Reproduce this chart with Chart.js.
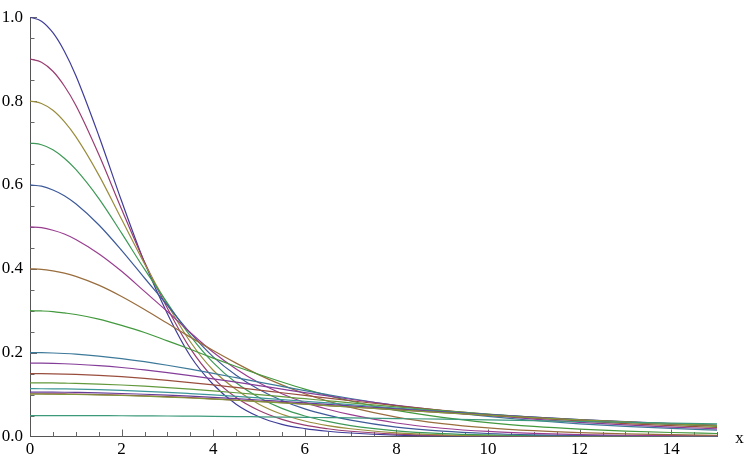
<!DOCTYPE html>
<html>
<head>
<meta charset="utf-8">
<script src="https://cdn.jsdelivr.net/npm/chart.js@4.4.1/dist/chart.umd.min.js"></script>
<style>
html,body{margin:0;padding:0;background:#ffffff;}
#wrap{width:747px;height:460px;position:relative;}
canvas{display:block;}
</style>
</head>
<body>
<div id="wrap"><canvas id="c" width="747" height="460"></canvas></div>
<script>
// ---- data ----
const xs = [0,0.25,0.5,0.75,1,1.5,2,2.5,3,3.5,4,4.5,5,5.5,6,6.5,7,8,9,10,11,12,13,14,15];

const curve01 = [1,0.9906,0.963,0.9189,0.861,0.718,0.5615,0.415,0.2926,0.192,0.124,0.077,0.047,0.029,0.019,0.0125,0.0083,0.0033,0.0013,0.0005,0.0002,0.0001,0.00005,0.00003,0.00001];
const curve02 = [0.9,0.8926,0.871,0.8359,0.790,0.673,0.542,0.416,0.306,0.210,0.140,0.093,0.062,0.041,0.027,0.0185,0.0125,0.0055,0.0024,0.0011,0.0005,0.00025,0.00013,0.00007,0.00004];
const curve03 = [0.8,0.7943,0.778,0.7508,0.715,0.624,0.518,0.412,0.315,0.226,0.158,0.112,0.077,0.053,0.037,0.026,0.0185,0.0088,0.0041,0.002,0.001,0.0005,0.00026,0.00014,0.00008];
const curve04 = [0.7,0.6958,0.684,0.6637,0.637,0.568,0.485,0.399,0.318,0.240,0.176,0.128,0.093,0.067,0.049,0.036,0.026,0.0136,0.0070,0.0037,0.002,0.0011,0.0006,0.00034,0.0002];
const curve05 = [0.6,0.5971,0.588,0.5744,0.555,0.505,0.444,0.378,0.313,0.247,0.190,0.146,0.112,0.086,0.066,0.051,0.039,0.0225,0.0128,0.0072,0.0041,0.0024,0.0014,0.00085,0.00052];
const curve06 = [0.5,0.4981,0.492,0.4831,0.470,0.436,0.394,0.346,0.298,0.248,0.201,0.161,0.128,0.102,0.081,0.065,0.052,0.0322,0.0197,0.0120,0.0075,0.0047,0.0030,0.0019,0.00126];
const curve07 = [0.4,0.3988,0.395,0.3898,0.382,0.361,0.334,0.303,0.270,0.237,0.205,0.175,0.147,0.123,0.102,0.0844,0.0694,0.0464,0.0309,0.0206,0.0138,0.0093,0.0063,0.0044,0.0030];
const curve08 = [0.3,0.2994,0.298,0.2947,0.291,0.280,0.265,0.248,0.228,0.208,0.187,0.167,0.148,0.130,0.113,0.098,0.0846,0.0624,0.0456,0.0332,0.0241,0.0176,0.0129,0.0095,0.0071];
const curve09 = [0.2,0.1998,0.1991,0.1979,0.1963,0.1918,0.1858,0.1784,0.1699,0.1605,0.1505,0.1402,0.1298,0.1195,0.1094,0.0998,0.0906,0.0739,0.0596,0.0478,0.0381,0.0303,0.0241,0.0192,0.0153];
const curve10 = [0.175,0.1748,0.1743,0.1735,0.1723,0.1690,0.1645,0.1589,0.1525,0.1453,0.1376,0.1295,0.1213,0.1130,0.1047,0.0967,0.0889,0.0744,0.0617,0.0507,0.0415,0.0338,0.0275,0.0224,0.0183];
const curve11 = [0.15,0.1499,0.1495,0.1489,0.1481,0.1457,0.1426,0.1386,0.1339,0.1287,0.1231,0.1170,0.1108,0.1044,0.0980,0.0916,0.0853,0.0734,0.0625,0.0528,0.0443,0.0371,0.0309,0.0258,0.0215];
const curve12 = [0.128,0.1279,0.1277,0.1272,0.1267,0.1250,0.1228,0.1200,0.1167,0.1129,0.1088,0.1044,0.0998,0.0950,0.0901,0.0852,0.0803,0.0707,0.0616,0.0533,0.0459,0.0393,0.0335,0.0286,0.0243];
const curve13 = [0.114,0.1139,0.1137,0.1134,0.1130,0.1117,0.1100,0.1078,0.1053,0.1023,0.0991,0.0956,0.0919,0.0881,0.0841,0.0800,0.0760,0.0679,0.0602,0.0529,0.0463,0.0403,0.0349,0.0302,0.0260];
const curve14 = [0.106,0.1059,0.1058,0.1055,0.1051,0.1041,0.1026,0.1008,0.0986,0.0961,0.0933,0.0903,0.0871,0.0837,0.0803,0.0767,0.0731,0.0660,0.0590,0.0523,0.0462,0.0406,0.0355,0.0309,0.0269];
const curve15 = [0.102,0.1019,0.1018,0.1015,0.1012,0.1001,0.0987,0.0970,0.0949,0.0925,0.0898,0.0869,0.0838,0.0806,0.0772,0.0738,0.0704,0.0635,0.0568,0.0504,0.0444,0.0390,0.0341,0.0298,0.0259];
const curve16 = [0.101,0.1009,0.1008,0.1005,0.1002,0.0992,0.0978,0.0961,0.0941,0.0918,0.0892,0.0864,0.0834,0.0803,0.0770,0.0737,0.0704,0.0637,0.0571,0.0508,0.0449,0.0395,0.0347,0.0303,0.0265];
const curve17 = [0.05,0.05,0.05,0.0499,0.0499,0.0497,0.0495,0.0492,0.0489,0.0485,0.0481,0.0476,0.0470,0.0464,0.0458,0.0451,0.0444,0.0428,0.0412,0.0395,0.0377,0.0358,0.0340,0.0321,0.0303];

const xTickValues = [0,2,4,6,8,10,12,14];
const xTickLabels = ['0','2','4','6','8','10','12','14'];
const yTickValues = [0,0.2,0.4,0.6,0.8,1.0];
const yTickLabels = ['0.0','0.2','0.4','0.6','0.8','1.0'];
const xAxisLabel = 'x';

// ---- styles ----
const allCurves = [curve01,curve02,curve03,curve04,curve05,curve06,curve07,curve08,curve09,curve10,curve11,curve12,curve13,curve14,curve15,curve16,curve17];
const lineColors = ['#3f3d99','#993d71','#998c3d','#3d9956','#3d5a99','#993d90','#996d3d','#43993d','#3d7999','#843d99','#994e3d','#62993d','#3d9799','#653d99','#993d4b','#81993d','#3d997c'];
const FONT = '"Liberation Serif", "Times New Roman", serif';
const xMinorStep = 0.5, yMinorStep = 0.05;
const majorLen = 7, minorLen = 4.5;
const axisColor = '#555555', tickColor = '#666666';

const datasets = allCurves.map((ys, i) => ({
  data: xs.map((x, j) => ({x: x, y: ys[j]})),
  borderColor: lineColors[i],
  borderWidth: 1.2,
  pointRadius: 0,
  fill: false,
  cubicInterpolationMode: 'monotone',
  order: allCurves.length - i
}));

const axisDecor = {
  id: 'axisDecor',
  beforeDatasetsDraw(chart) {
    const {ctx, scales: {x, y}} = chart;
    ctx.save();
    ctx.strokeStyle = tickColor;
    ctx.lineWidth = 1;
    ctx.beginPath();
    const nx = Math.round((x.max - x.min) / xMinorStep);
    for (let i = 1; i <= nx; i++) {
      const v = x.min + i * xMinorStep;
      const px = Math.round(x.getPixelForValue(v)) + 0.5;
      const isMajor = xTickValues.some(t => Math.abs(t - v) < 1e-9);
      const len = isMajor ? majorLen : minorLen;
      ctx.moveTo(px, y.bottom);
      ctx.lineTo(px, y.bottom - len);
    }
    const ny = Math.round((y.max - y.min) / yMinorStep);
    for (let i = 1; i <= ny; i++) {
      const v = y.min + i * yMinorStep;
      const py = Math.round(y.getPixelForValue(v)) + 0.5;
      const isMajor = yTickValues.some(t => Math.abs(t - v) < 1e-9);
      const len = isMajor ? majorLen : minorLen;
      ctx.moveTo(x.left, py);
      ctx.lineTo(x.left + len, py);
    }
    ctx.stroke();
    ctx.restore();
  },
  afterDraw(chart) {
    const {ctx, scales: {x, y}} = chart;
    ctx.save();
    ctx.fillStyle = '#000000';
    ctx.font = '17px ' + FONT;
    ctx.textAlign = 'center';
    ctx.textBaseline = 'alphabetic';
    ctx.fillText(xAxisLabel, x.right + 22.5, y.bottom + 6);
    ctx.restore();
  }
};

new Chart(document.getElementById('c'), {
  type: 'line',
  data: { datasets: datasets },
  options: {
    responsive: false,
    animation: false,
    devicePixelRatio: 1,
    layout: { padding: { left: 0, right: 30, top: 10.5, bottom: 0 } },
    plugins: { legend: { display: false }, tooltip: { enabled: false } },
    scales: {
      x: {
        type: 'linear', min: 0, max: 15,
        grid: { display: true, drawOnChartArea: false, drawTicks: false },
        border: { display: true, color: axisColor, width: 1 },
        afterBuildTicks: s => { s.ticks = xTickValues.map(v => ({value: v})); },
        afterFit: s => { s.height = 23.5; },
        ticks: {
          autoSkip: false, maxRotation: 0, padding: 3, color: '#000000',
          font: { family: FONT, size: 17 },
          callback: v => { const k = xTickValues.indexOf(v); return k >= 0 ? xTickLabels[k] : ''; }
        }
      },
      y: {
        type: 'linear', min: 0, max: 1,
        grid: { display: true, drawOnChartArea: false, drawTicks: false },
        border: { display: true, color: axisColor, width: 1 },
        afterBuildTicks: s => { s.ticks = yTickValues.map(v => ({value: v})); },
        afterFit: s => { s.width = 30; },
        ticks: {
          autoSkip: false, padding: 7, color: '#000000',
          font: { family: FONT, size: 17 },
          callback: v => { const k = yTickValues.findIndex(t => Math.abs(t - v) < 1e-9); return k >= 0 ? yTickLabels[k] : ''; }
        }
      }
    }
  },
  plugins: [axisDecor]
});
</script>
</body>
</html>
